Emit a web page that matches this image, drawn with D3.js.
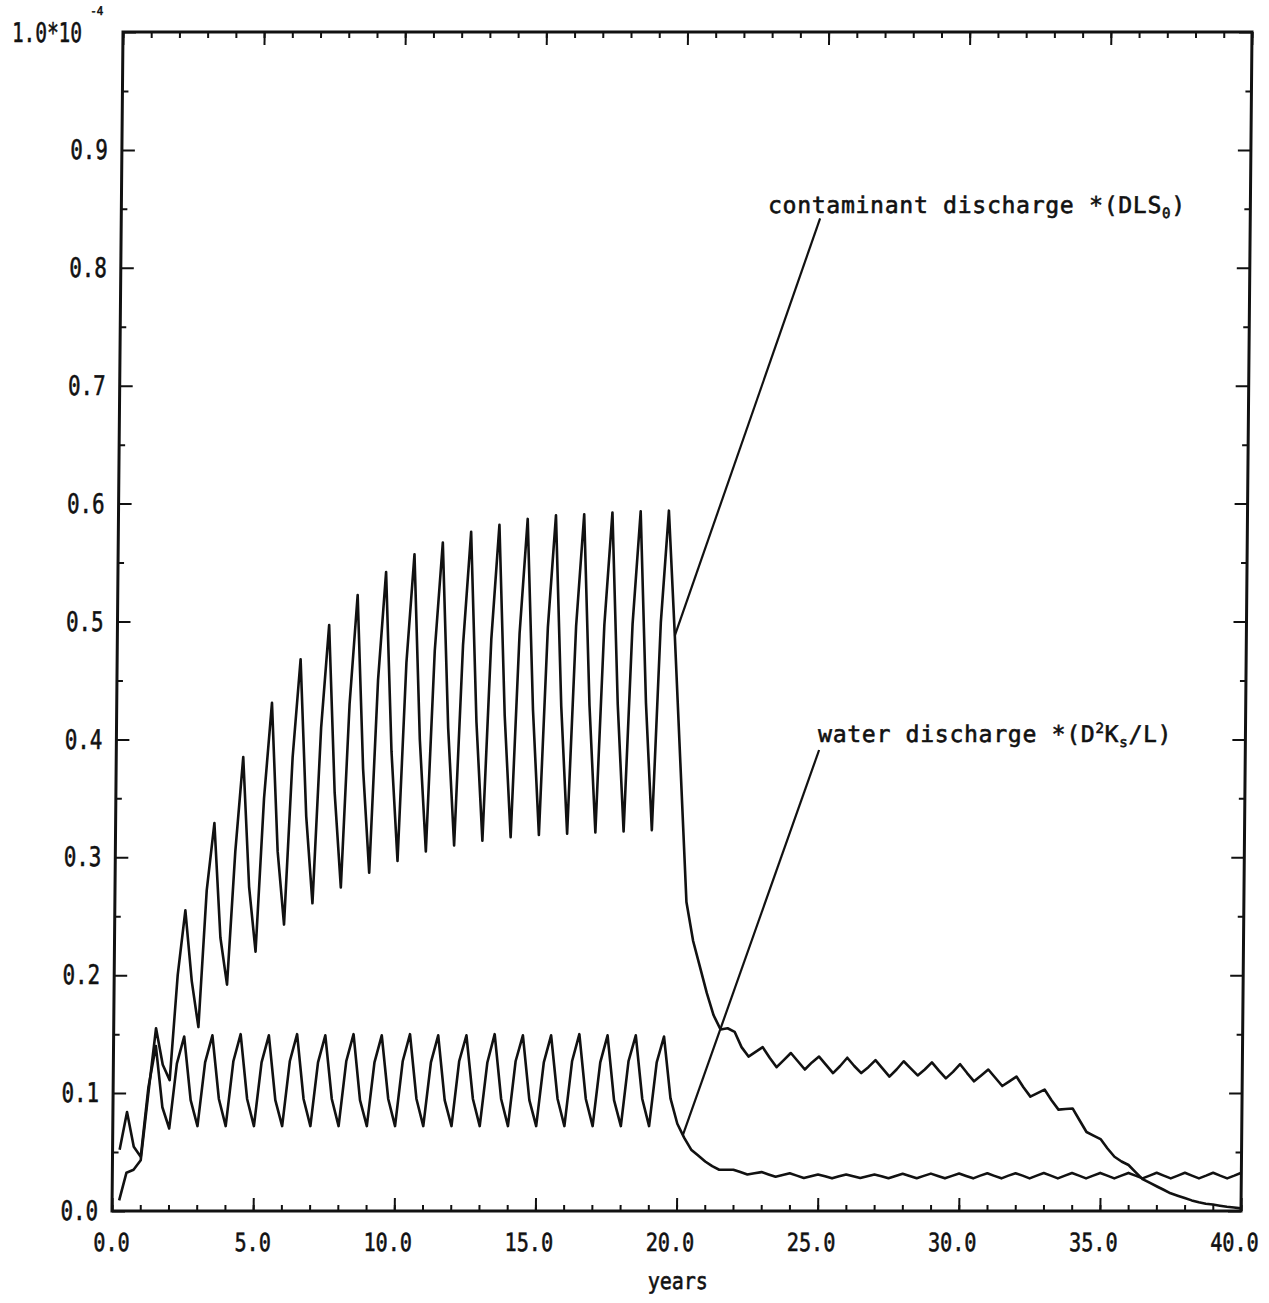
<!DOCTYPE html>
<html>
<head>
<meta charset="utf-8">
<script src="https://cdn.jsdelivr.net/npm/d3@7"></script>
<style>
html,body{margin:0;padding:0;background:#fff;}
svg{display:block;}
</style>
</head>
<body>
<svg id="chart" width="1269" height="1303"></svg>
<script>
// Simulation output, one sample every quarter year; first sample at 0.25 years
const timeStep = 0.25;

// contaminant discharge *(DLS0), 4 samples per row = one year
const contaminant = [
  0.009, 0.0325, 0.035, 0.043,
  0.100, 0.155, 0.124, 0.111,
  0.200, 0.255, 0.195, 0.156,
  0.272, 0.329, 0.232, 0.192,
  0.305, 0.385, 0.275, 0.220,
  0.350, 0.431, 0.305, 0.243,
  0.385, 0.468, 0.335, 0.261,
  0.410, 0.497, 0.355, 0.2745,
  0.430, 0.5225, 0.375, 0.287,
  0.450, 0.542, 0.390, 0.297,
  0.465, 0.557, 0.400, 0.305,
  0.475, 0.567, 0.410, 0.310,
  0.480, 0.576, 0.415, 0.314,
  0.485, 0.582, 0.420, 0.317,
  0.490, 0.587, 0.425, 0.319,
  0.495, 0.590, 0.428, 0.320,
  0.496, 0.591, 0.429, 0.321,
  0.497, 0.5925, 0.430, 0.322,
  0.498, 0.5935, 0.431, 0.323,
  0.499, 0.594, 0.488, 0.375,
  0.262, 0.229, 0.207, 0.185,
  0.166, 0.154, 0.155, 0.152,
  0.139, 0.131, 0.135, 0.139,
  0.130, 0.122, 0.128, 0.134,
  0.127, 0.120, 0.126, 0.131,
  0.124, 0.117, 0.123, 0.130,
  0.123, 0.117, 0.122, 0.128,
  0.121, 0.114, 0.120, 0.127,
  0.121, 0.115, 0.120, 0.126,
  0.119, 0.1125, 0.118, 0.1245,
  0.117, 0.110, 0.115, 0.120,
  0.113, 0.106, 0.110, 0.114,
  0.105, 0.097, 0.100, 0.103,
  0.094, 0.086, 0.0865, 0.087,
  0.077, 0.067, 0.064, 0.061,
  0.053, 0.046, 0.042, 0.039,
  0.033, 0.027, 0.024, 0.021,
  0.018, 0.015, 0.013, 0.011,
  0.009, 0.0075, 0.0062, 0.0055,
  0.0045, 0.0036, 0.003, 0.0022
];

// water discharge *(D^2 Ks/L), 4 samples per row = one year
const water = [
  0.052, 0.084, 0.0545, 0.046,
  0.105, 0.140, 0.088, 0.070,
  0.125, 0.148, 0.094, 0.072,
  0.126, 0.149, 0.095, 0.072,
  0.127, 0.150, 0.095, 0.072,
  0.126, 0.149, 0.094, 0.072,
  0.127, 0.150, 0.095, 0.072,
  0.126, 0.149, 0.095, 0.072,
  0.127, 0.150, 0.094, 0.072,
  0.126, 0.149, 0.095, 0.072,
  0.127, 0.150, 0.095, 0.072,
  0.126, 0.149, 0.094, 0.072,
  0.127, 0.149, 0.095, 0.072,
  0.126, 0.150, 0.095, 0.072,
  0.127, 0.149, 0.094, 0.072,
  0.126, 0.149, 0.095, 0.072,
  0.127, 0.150, 0.095, 0.072,
  0.126, 0.149, 0.094, 0.072,
  0.127, 0.149, 0.095, 0.072,
  0.126, 0.148, 0.0956, 0.074,
  0.062, 0.052, 0.047, 0.042,
  0.038, 0.035, 0.035, 0.035,
  0.033, 0.031, 0.032, 0.033,
  0.031, 0.029, 0.0305, 0.032,
  0.030, 0.028, 0.0295, 0.031,
  0.0295, 0.0277, 0.0295, 0.031,
  0.0295, 0.028, 0.0295, 0.031,
  0.0295, 0.0278, 0.0297, 0.0315,
  0.0296, 0.0278, 0.0298, 0.0317,
  0.0297, 0.0277, 0.0298, 0.0318,
  0.0297, 0.0277, 0.030, 0.032,
  0.0298, 0.0277, 0.030, 0.032,
  0.030, 0.0277, 0.030, 0.0322,
  0.030, 0.0277, 0.030, 0.0322,
  0.030, 0.0277, 0.030, 0.0323,
  0.030, 0.0277, 0.030, 0.0323,
  0.030, 0.0277, 0.030, 0.0324,
  0.030, 0.0277, 0.030, 0.0324,
  0.030, 0.0277, 0.030, 0.0325,
  0.030, 0.0277, 0.030, 0.0325
];

const xMajorTicks = [0, 5, 10, 15, 20, 25, 30, 35, 40];
const xMinorTicks = [0,1,2,3,4,5,6,7,8,9,10,11,12,13,14,15,16,17,18,19,20,
                     21,22,23,24,25,26,27,28,29,30,31,32,33,34,35,36,37,38,39,40];
const xTickLabels = ["0.0","5.0","10.0","15.0","20.0","25.0","30.0","35.0","40.0"];
const yMajorTicks = [0.0, 0.1, 0.2, 0.3, 0.4, 0.5, 0.6, 0.7, 0.8, 0.9, 1.0];
const yMinorTicks = [0.05, 0.15, 0.25, 0.35, 0.45, 0.55, 0.65, 0.75, 0.85, 0.95];
const yTickLabels = ["0.0","0.1","0.2","0.3","0.4","0.5","0.6","0.7","0.8","0.9",""];
const yTopLabel = "1.0*10";
const yTopExponent = "-4";
const xTitle = "years";

// annotation labels (text pieces: [text, role])
const contaminantLabel = [["contaminant discharge *(DLS", ""], ["0", "sub"], [")", ""]];
const waterLabel = [["water discharge *(D", ""], ["2", "sup"], ["K", ""], ["s", "sub"], ["/L)", ""]];

// ---------------- layout ----------------
const W = 1269, H = 1303;
const plot = {left: 112, right: 1241, top: 32, bottom: 1211};
const INK = "#111";
const FONT = "'DejaVu Sans Mono', 'Liberation Mono', monospace";
const scanSkew = -0.5346; // the scanned original is slightly sheared

const x = d3.scaleLinear().domain([0, 40]).range([plot.left, plot.right]);
const y = d3.scaleLinear().domain([0, 1]).range([plot.bottom, plot.top]);
const tOf = i => (i + 1) * timeStep;

const svg = d3.select("#chart");
svg.append("rect").attr("width", W).attr("height", H).attr("fill", "#fff");

const g = svg.append("g")
  .attr("transform", `translate(0,${plot.bottom}) skewX(${scanSkew}) translate(0,${-plot.bottom})`)
  .attr("color", INK);

function styleAxis(sel) {
  sel.select(".domain").remove();
  sel.selectAll(".tick line").attr("stroke-width", 2);
  sel.attr("font-family", FONT);
}
function boldText(sel) {
  sel.attr("stroke", INK).attr("stroke-width", 0.6).attr("fill", INK);
}

// bottom axis
g.append("g").attr("transform", `translate(0,${y(0)})`)
  .call(d3.axisBottom(x).tickValues(xMinorTicks).tickSizeInner(-6).tickSizeOuter(0).tickFormat(""))
  .call(styleAxis);
g.append("g").attr("transform", `translate(0,${y(0)})`)
  .call(d3.axisBottom(x).tickValues(xMajorTicks).tickSizeInner(-13).tickSizeOuter(0)
        .tickFormat((d, i) => xTickLabels[i]))
  .call(styleAxis)
  .call(a => a.attr("font-size", 25).selectAll("text")
    .attr("text-anchor", "end").attr("x", 17.5).attr("y", 40).attr("dy", null)
    .attr("textLength", (d, i) => xTickLabels[i].length * 12.1)
    .attr("lengthAdjust", "spacingAndGlyphs")
    .call(boldText));

// top axis
g.append("g").attr("transform", `translate(0,${y(1)})`)
  .call(d3.axisTop(x).tickValues(xMinorTicks).tickSizeInner(-6).tickSizeOuter(0).tickFormat(""))
  .call(styleAxis);
g.append("g").attr("transform", `translate(0,${y(1)})`)
  .call(d3.axisTop(x).tickValues(xMajorTicks).tickSizeInner(-13).tickSizeOuter(0).tickFormat(""))
  .call(styleAxis);

// left axis
g.append("g").attr("transform", `translate(${x(0)},0)`)
  .call(d3.axisLeft(y).tickValues(yMinorTicks).tickSizeInner(-6).tickSizeOuter(0).tickFormat(""))
  .call(styleAxis);
g.append("g").attr("transform", `translate(${x(0)},0)`)
  .call(d3.axisLeft(y).tickValues(yMajorTicks).tickSizeInner(-13).tickSizeOuter(0).tickPadding(14)
        .tickFormat((d, i) => yTickLabels[i]))
  .call(styleAxis)
  .call(a => a.attr("font-size", 27).selectAll("text")
    .filter((d) => yTickLabels[yMajorTicks.indexOf(d)] !== "")
    .attr("textLength", (d) => yTickLabels[yMajorTicks.indexOf(d)].length * 12.5)
    .attr("lengthAdjust", "spacingAndGlyphs")
    .call(boldText));

// right axis
g.append("g").attr("transform", `translate(${x(40)},0)`)
  .call(d3.axisRight(y).tickValues(yMinorTicks).tickSizeInner(-6).tickSizeOuter(0).tickFormat(""))
  .call(styleAxis);
g.append("g").attr("transform", `translate(${x(40)},0)`)
  .call(d3.axisRight(y).tickValues(yMajorTicks).tickSizeInner(-13).tickSizeOuter(0).tickFormat(""))
  .call(styleAxis);

// frame
g.append("rect")
  .attr("x", x(0)).attr("y", y(1))
  .attr("width", x(40) - x(0)).attr("height", y(0) - y(1))
  .attr("fill", "none").attr("stroke", INK).attr("stroke-width", 3);

// top label 1.0*10^-4
g.append("text")
  .attr("x", x(0) - 41).attr("y", y(1) + 10)
  .attr("text-anchor", "end").attr("font-family", FONT).attr("font-size", 27)
  .attr("textLength", 70).attr("lengthAdjust", "spacingAndGlyphs")
  .call(boldText)
  .text(yTopLabel);
g.append("text")
  .attr("x", x(0) - 33).attr("y", y(1) - 17)
  .attr("font-family", FONT).attr("font-size", 12)
  .attr("textLength", 13).attr("lengthAdjust", "spacingAndGlyphs")
  .call(boldText)
  .text(yTopExponent);

// x title
g.append("text")
  .attr("x", x(20) + 2).attr("y", y(0) + 78)
  .attr("text-anchor", "middle").attr("font-family", FONT).attr("font-size", 23)
  .attr("textLength", 60).attr("lengthAdjust", "spacingAndGlyphs")
  .call(boldText)
  .text(xTitle);

// data lines
const line = d3.line().x((d, i) => x(tOf(i))).y(d => y(d));
g.append("path").datum(water)
  .attr("d", line).attr("fill", "none").attr("stroke", INK).attr("stroke-width", 2.6)
  .attr("stroke-linejoin", "round");
g.append("path").datum(contaminant)
  .attr("d", line).attr("fill", "none").attr("stroke", INK).attr("stroke-width", 2.6)
  .attr("stroke-linejoin", "round");

// annotations
function drawLabel(pieces, year, value) {
  const t = g.append("text")
    .attr("x", x(year)).attr("y", y(value))
    .attr("font-family", FONT).attr("font-size", 23)
    .attr("letter-spacing", 0.75)
    .call(boldText);
  let shift = 0;
  pieces.forEach(([s, role]) => {
    const target = role === "sub" ? 5 : role === "sup" ? -9 : 0;
    t.append("tspan")
      .attr("dy", target - shift)
      .attr("font-size", role ? 14 : 23)
      .text(s);
    shift = target;
  });
}

const contaminantIdx = (19.75 / timeStep) - 1;
const waterEndYear = 20.2;
const wi = Math.floor(waterEndYear / timeStep) - 1;
const waterEndValue = d3.interpolateNumber(water[wi], water[wi + 1])((waterEndYear - tOf(wi)) / timeStep);

const leaders = [
  {from: [24.76, 0.842], to: [tOf(contaminantIdx), contaminant[contaminantIdx]]},
  {from: [24.9, 0.391], to: [waterEndYear, waterEndValue]}
];
g.selectAll("line.leader").data(leaders).join("line")
  .attr("class", "leader")
  .attr("x1", d => x(d.from[0])).attr("y1", d => y(d.from[1]))
  .attr("x2", d => x(d.to[0])).attr("y2", d => y(d.to[1]))
  .attr("stroke", INK).attr("stroke-width", 2.2);

drawLabel(contaminantLabel, 22.91, 0.8465);
drawLabel(waterLabel, 24.86, 0.3975);
</script>
</body>
</html>
